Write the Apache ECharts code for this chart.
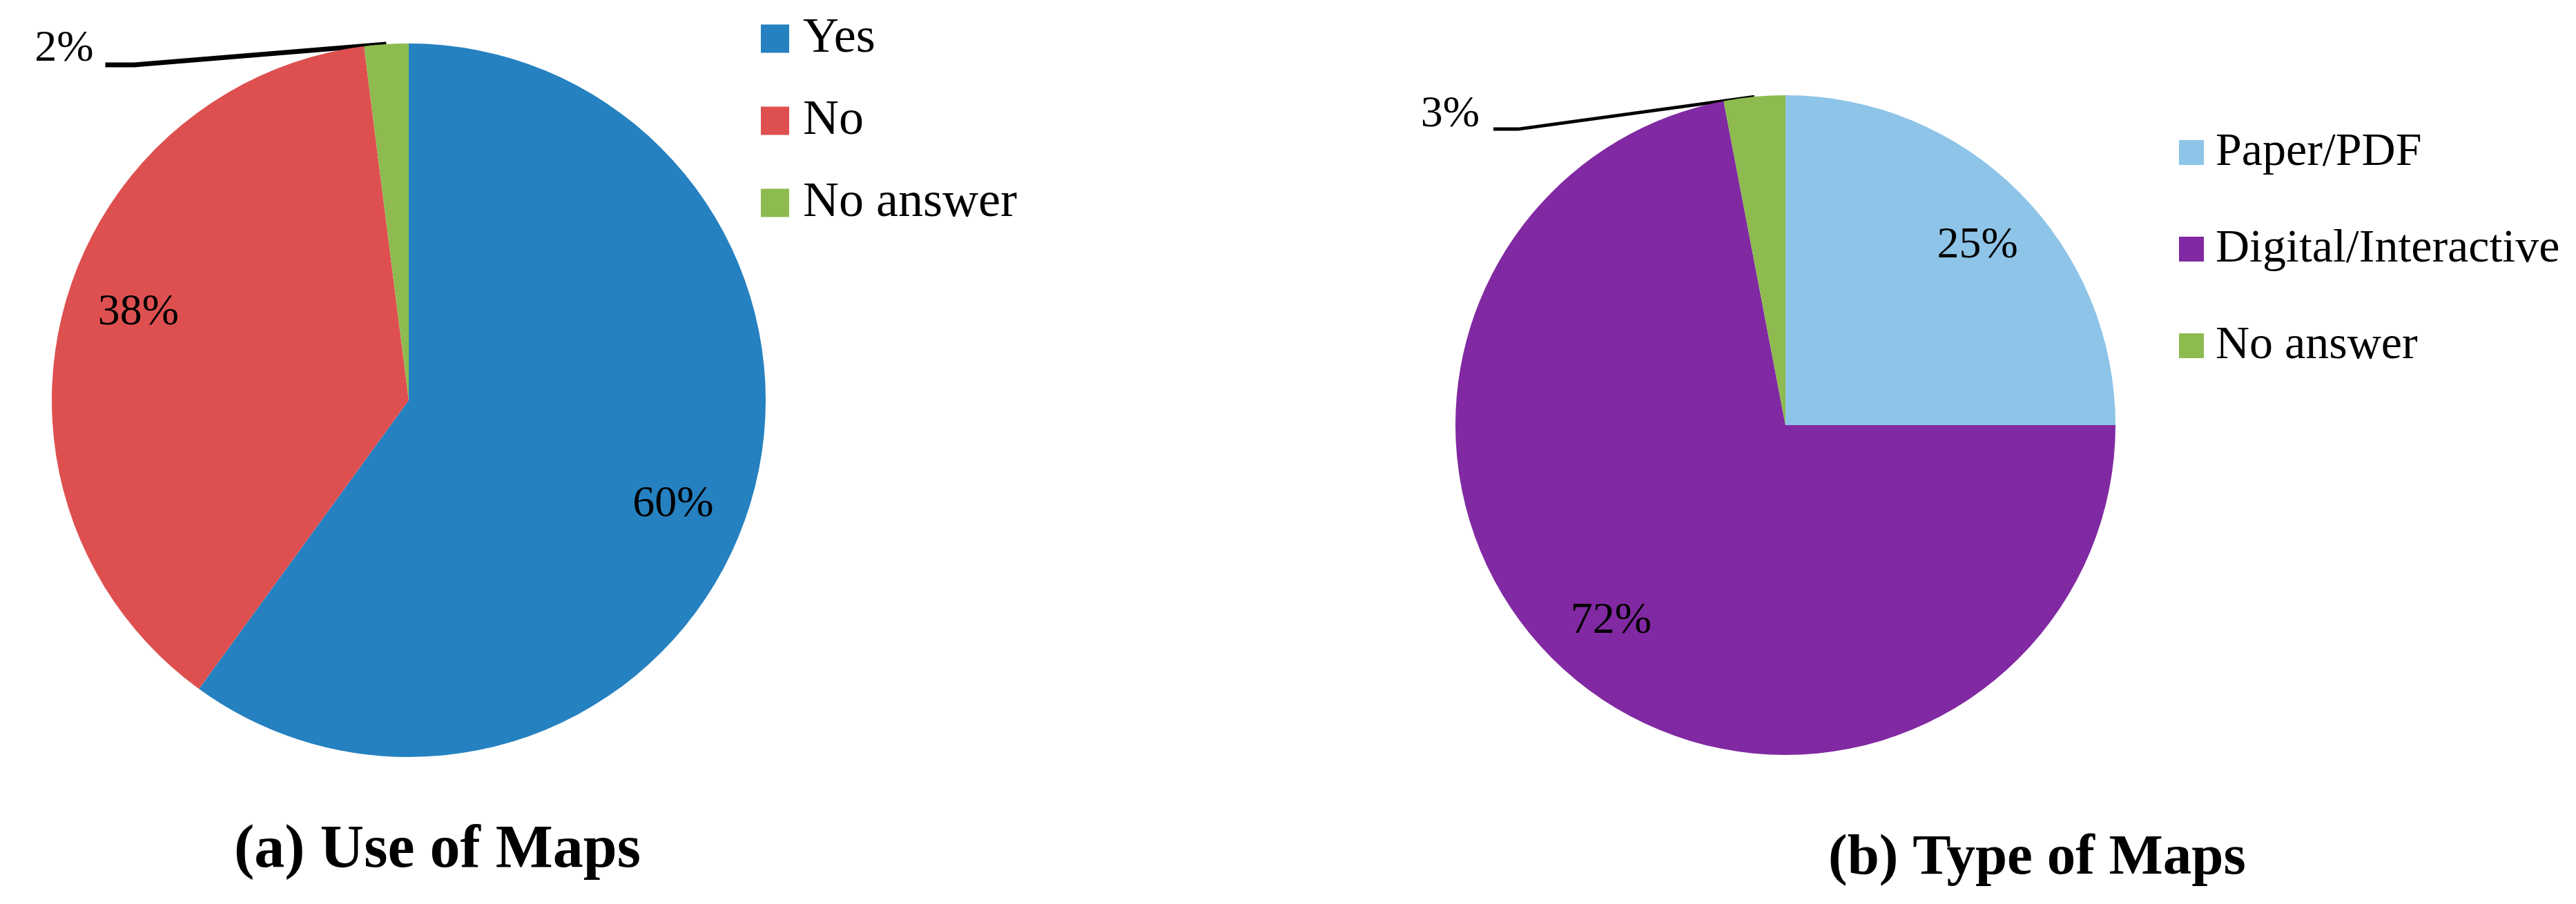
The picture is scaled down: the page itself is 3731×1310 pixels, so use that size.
<!DOCTYPE html>
<html>
<head>
<meta charset="utf-8">
<title>Use of Maps / Type of Maps</title>
<script src="https://cdn.jsdelivr.net/npm/echarts@6/dist/echarts.min.js"></script>
<style>
  html, body { margin: 0; padding: 0; background: #fff; }
  #chart { width: 3731px; height: 1310px; }
</style>
</head>
<body>
<div id="chart"></div>
<script>
// (a) Use of Maps
const useCategories = ["Yes", "No", "No answer"];
const useValues = [60, 38, 2];
// (b) Type of Maps
const typeCategories = ["Paper/PDF", "Digital/Interactive", "No answer"];
const typeValues = [25, 72, 3];

const useColors = ["#2581C0", "#DE5050", "#8DBB50"];
const typeColors = ["#8EC4E8", "#8129A2", "#8DBB4F"];

const serif = "Liberation Serif";
const smallSlice = (v) => v < 5; // these get an outside label with a leader line

const chart = echarts.init(document.getElementById("chart"), null, { renderer: "canvas" });

// the visible pie; only the thin slice carries a label (outside, with leader)
function mainPie(cats, vals, colors, center, radius, lineWidth, leader) {
  return {
    type: "pie",
    center: center,
    radius: [0, radius],
    startAngle: 90,
    clockwise: true,
    avoidLabelOverlap: false,
    animation: false,
    silent: true,
    itemStyle: { borderWidth: 0 },
    label: {
      position: "outside",
      formatter: "{c}%",
      color: "#000",
      fontFamily: serif,
      fontSize: 64,
    },
    labelLine: { lineStyle: { color: "#000", width: lineWidth } },
    labelLayout: (params) => {
      const p = params.labelLinePoints;
      if (!p) return {};
      const [x0, y0] = p[0];
      return {
        x: x0 + leader.label[0],
        y: y0 + leader.label[1],
        align: "right",
        verticalAlign: "middle",
        labelLinePoints: [
          [x0, y0],
          [x0 + leader.bend[0], y0 + leader.bend[1]],
          [x0 + leader.end[0], y0 + leader.end[1]],
        ],
      };
    },
    data: cats.map((name, i) => ({
      name: name,
      value: vals[i],
      itemStyle: { color: colors[i] },
      label: { show: smallSlice(vals[i]) },
      labelLine: { show: smallSlice(vals[i]), lineStyle: { color: "#000", width: lineWidth } },
    })),
  };
}

// transparent ring on top, only used to place the big labels further out
// (slightly turned, the way the original places them)
function labelRing(cats, vals, center, radius, turn) {
  return {
    type: "pie",
    center: center,
    radius: [Math.round(radius * 0.58), radius],
    startAngle: 90 - turn,
    clockwise: true,
    animation: false,
    silent: true,
    itemStyle: { color: "transparent", borderWidth: 0 },
    label: {
      position: "inside",
      formatter: "{c}%",
      color: "#000",
      fontFamily: serif,
      fontSize: 64,
    },
    labelLine: { show: false },
    data: cats.map((name, i) => ({
      name: name,
      value: vals[i],
      label: { show: !smallSlice(vals[i]) },
    })),
  };
}

const legendBase = {
  orient: "vertical",
  icon: "rect",
  padding: 0,
  selectedMode: false,
  textStyle: { fontFamily: serif, color: "#000", lineHeight: 80 },
};

chart.setOption({
  backgroundColor: "#fff",
  title: [
    {
      text: "(a) Use of Maps",
      left: 339,
      top: 1189,
      padding: 0,
      textStyle: { fontFamily: serif, fontWeight: "bold", fontSize: 88, color: "#000" },
    },
    {
      text: "(b) Type of Maps",
      left: 2648,
      top: 1203,
      padding: 0,
      textStyle: { fontFamily: serif, fontWeight: "bold", fontSize: 83, color: "#000" },
    },
  ],
  legend: [
    {
      ...legendBase,
      data: useCategories,
      left: 1102,
      top: 16,
      itemWidth: 41,
      itemHeight: 41,
      itemGap: 39,
      textStyle: { ...legendBase.textStyle, fontSize: 72, padding: [0, 0, 0, 15] },
    },
    {
      ...legendBase,
      data: typeCategories,
      left: 3156,
      top: 181,
      itemWidth: 36,
      itemHeight: 36,
      itemGap: 60,
      textStyle: { ...legendBase.textStyle, fontSize: 68, padding: [0, 0, 0, 12] },
    },
  ],
  series: [
    mainPie(useCategories, useValues, useColors, [592, 580], 517, 7, {
      label: [-424, 7],
      bend: [-365, 30],
      end: [-407, 30],
    }),
    mainPie(typeCategories, typeValues, typeColors, [2586, 616], 478, 5, {
      label: [-398, 26],
      bend: [-342, 47],
      end: [-378, 47],
    }),
    labelRing(useCategories, useValues, [592, 580], 517, 3.5),
    labelRing(typeCategories, typeValues, [2586, 616], 478, 2),
  ],
});
</script>
</body>
</html>
